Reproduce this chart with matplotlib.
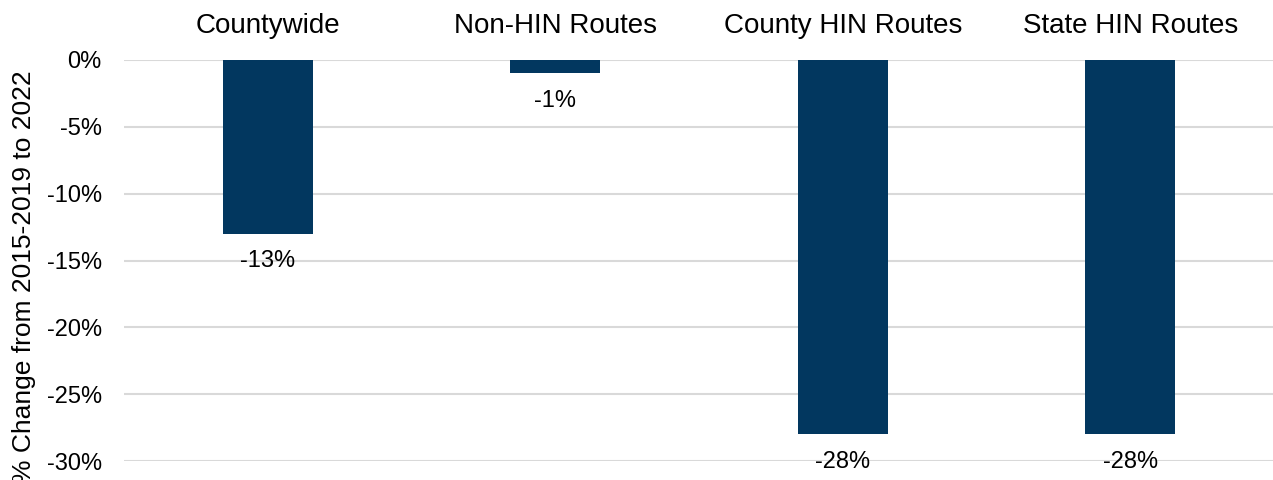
import matplotlib
matplotlib.use("Agg")
import matplotlib.pyplot as plt

plt.rcParams["font.family"] = ["Liberation Sans", "DejaVu Sans"]

categories = ["Countywide", "Non-HIN Routes", "County HIN Routes", "State HIN Routes"]
pct_change = [-13, -1, -28, -28]
yticks = [0, -5, -10, -15, -20, -25, -30]

BAR_COLOR = "#02375f"
GRID_COLOR = "#d9d9d9"

fig = plt.figure(figsize=(12.73, 4.8), dpi=100)
ax = fig.add_axes([124 / 1273, 1 - 461 / 480, 1150 / 1273, 401 / 480])

x = list(range(len(categories)))
ax.bar(x, pct_change, width=0.313, color=BAR_COLOR, zorder=3)

# value labels just below each bar end
for xi, v in zip(x, pct_change):
    ax.text(xi, v - 2.05, f"{v}%", ha="center", va="center", fontsize=17,
            color="black", clip_on=False, zorder=4)

ax.set_xlim(-0.5, 3.5)
ax.set_ylim(-30, 0)
ax.set_yticks(yticks)
ax.set_yticklabels([f"{t}%" for t in yticks])
ax.yaxis.grid(True, color=GRID_COLOR, lw=1.5, zorder=0)
ax.set_axisbelow(True)

ax.xaxis.tick_top()
ax.set_xticks(x)
ax.set_xticklabels(categories)
ax.tick_params(axis="x", length=0, pad=15, labelsize=20)
ax.tick_params(axis="y", length=0, pad=16, labelsize=17)

for s in ax.spines.values():
    s.set_visible(False)

fig.text(24 / 1273, 1 - 277 / 480, "% Change from 2015-2019 to 2022", rotation=90,
         ha="center", va="center", fontsize=19)

fig.savefig("out.png", dpi=100)
